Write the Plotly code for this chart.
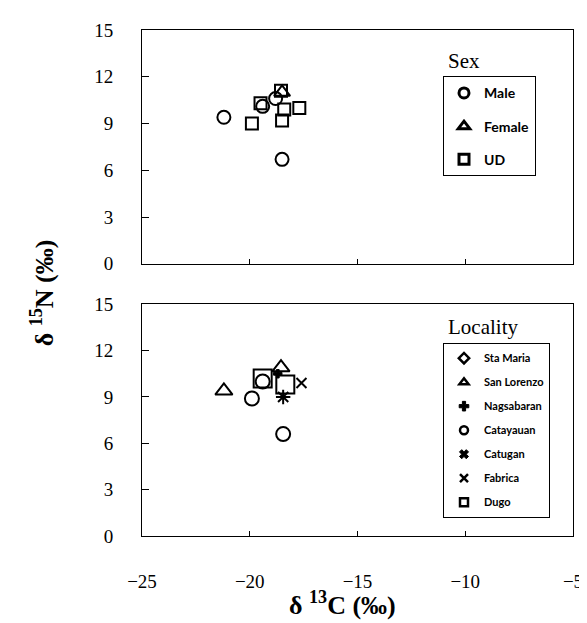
import plotly.graph_objects as go

# ---- data (δ13C, δ15N) ----
male_x = [-21.2, -19.4, -18.8, -18.5]
male_y = [9.4, 10.1, 10.6, 6.7]
female_x = [-18.5]
female_y = [11.0]
ud_x = [-19.9, -19.5, -18.55, -18.4, -17.7, -18.5]
ud_y = [9.0, 10.3, 11.1, 9.9, 10.0, 9.2]

stamaria_x = [-19.9]
stamaria_y = [8.9]
sanlorenzo_x = [-21.2, -18.55]
sanlorenzo_y = [9.4, 10.9]
nagsabaran_x = [-18.7]
nagsabaran_y = [10.5]
catayauan_x = [-19.4, -18.45]
catayauan_y = [10.0, 6.6]
catugan_x = [-18.45]
catugan_y = [9.0]
fabrica_x = [-17.6]
fabrica_y = [9.9]
dugo_x = [-19.4, -18.35]
dugo_y = [10.2, 9.8]

sex_names = ["Male", "Female", "UD"]
loc_names = ["Sta Maria", "San Lorenzo", "Nagsabaran", "Catayauan", "Catugan", "Fabrica", "Dugo"]
x_ticks = [-25, -20, -15, -10, -5]
x_ticktext = ["\u221225", "\u221220", "\u221215", "\u221210", "\u22125"]
y_ticks = [0, 3, 6, 9, 12, 15]

fig = go.Figure()

def pts(x, y, sym, size, xa, ya, lw=2):
    fig.add_trace(go.Scatter(x=x, y=y, mode="markers", xaxis=xa, yaxis=ya, showlegend=False,
                             marker=dict(symbol=sym, size=size, color="black",
                                         line=dict(color="black", width=lw))))

# top panel
pts(male_x, male_y, "circle-open", 13, "x", "y")
pts(female_x, female_y, "triangle-up-open", 14, "x", "y")
pts(ud_x, ud_y, "square-open", 12, "x", "y")
# bottom panel
pts(stamaria_x, stamaria_y, "circle-open", 14, "x2", "y2")
pts(sanlorenzo_x, sanlorenzo_y, "triangle-up-open", 15, "x2", "y2")
pts(nagsabaran_x, nagsabaran_y, "cross", 7, "x2", "y2", 1)
pts(catayauan_x, catayauan_y, "circle-open", 14, "x2", "y2")
pts(catugan_x, catugan_y, "asterisk-open", 12, "x2", "y2")
pts(fabrica_x, fabrica_y, "x-thin-open", 10, "x2", "y2")
pts(dugo_x, dugo_y, "square-open", 18, "x2", "y2")

# legend entries
def leg(name, sym, size, legend, group, lw=3):
    fig.add_trace(go.Scatter(x=[None], y=[None], mode="markers", name=name, legend=legend,
                             legendgroup=group, xaxis="x", yaxis="y",
                             marker=dict(symbol=sym, size=size, color="black",
                                         line=dict(color="black", width=lw))))

sex_syms = ["circle-open", "triangle-up-open", "square-open"]
for n, s in zip(sex_names, sex_syms):
    leg(n, s, 10, "legend", "s" + n)

loc_syms = ["diamond-open", "triangle-up-open", "cross", "circle-open", "x", "x-thin-open", "square-open"]
for n, s in zip(loc_names, loc_syms):
    lw = 1 if s in ("cross", "x") else 2.5
    leg(n, s, 8, "legend2", "l" + n, lw)

tickfont = dict(family="Liberation Sans Narrow", size=19, color="black")
axis_common = dict(showline=True, linecolor="black", linewidth=1, mirror=True,
                   showgrid=False, zeroline=False, ticks="inside", tickcolor="black")

# pixel geometry helpers
L, W0, B, H0 = 134, 431, 528, 513
px = lambda v: (v - L) / W0
py = lambda v: (B - v) / H0

fig.update_layout(
    width=587, height=623,
    margin=dict(l=134, r=22, t=15, b=95),
    paper_bgcolor="white", plot_bgcolor="white",
    xaxis=dict(domain=[0, 1], anchor="y", range=[-25, -5], tickvals=x_ticks,
               showticklabels=False, ticklen=5, **axis_common),
    yaxis=dict(domain=[0.538, 1], anchor="x", range=[0, 15], tickvals=y_ticks,
               ticklen=7, tickfont=tickfont, ticklabelstandoff=24, **axis_common),
    xaxis2=dict(domain=[0, 1], anchor="y2", range=[-25, -5], tickvals=x_ticks,
                ticktext=x_ticktext, ticklen=5, tickfont=tickfont, ticklabelstandoff=28,
                **axis_common),
    yaxis2=dict(domain=[0, 0.458], anchor="x2", range=[0, 15], tickvals=y_ticks,
                ticklen=7, tickfont=tickfont, ticklabelstandoff=24, **axis_common),
    legend=dict(x=px(435), xanchor="left", y=py(62), yanchor="top",
                bordercolor="black", borderwidth=1, bgcolor="white",
                font=dict(family="Lato", size=14, color="black", weight="bold"),
                tracegroupgap=12, traceorder="grouped", itemwidth=30),
    legend2=dict(x=px(435), xanchor="left", y=py(332), yanchor="top",
                 bordercolor="black", borderwidth=1, bgcolor="white",
                 font=dict(family="Lato", size=11, color="black", weight="bold"),
                 tracegroupgap=5, traceorder="grouped", itemwidth=30),
)

serif = dict(family="Liberation Serif", size=21, color="black")
fig.add_annotation(text="Sex", x=px(438), y=py(46), xref="paper", yref="paper",
                   xanchor="left", yanchor="middle", showarrow=False, font=serif)
fig.add_annotation(text="Locality", x=px(438), y=py(316), xref="paper", yref="paper",
                   xanchor="left", yanchor="middle", showarrow=False, font=serif)
bold_serif = dict(family="Liberation Serif", size=26, color="black", weight="bold")
fig.add_annotation(text="\u03b4 <sup>13</sup>C (\u2030)", x=px(334), y=py(596),
                   xref="paper", yref="paper", xanchor="center", yanchor="middle",
                   showarrow=False, font=bold_serif)
fig.add_annotation(text="\u03b4 <sup>15</sup>N (\u2030)", x=px(34), y=py(282),
                   xref="paper", yref="paper", xanchor="center", yanchor="middle",
                   textangle=-90, showarrow=False, font=bold_serif)

fig.write_html("out.html")
